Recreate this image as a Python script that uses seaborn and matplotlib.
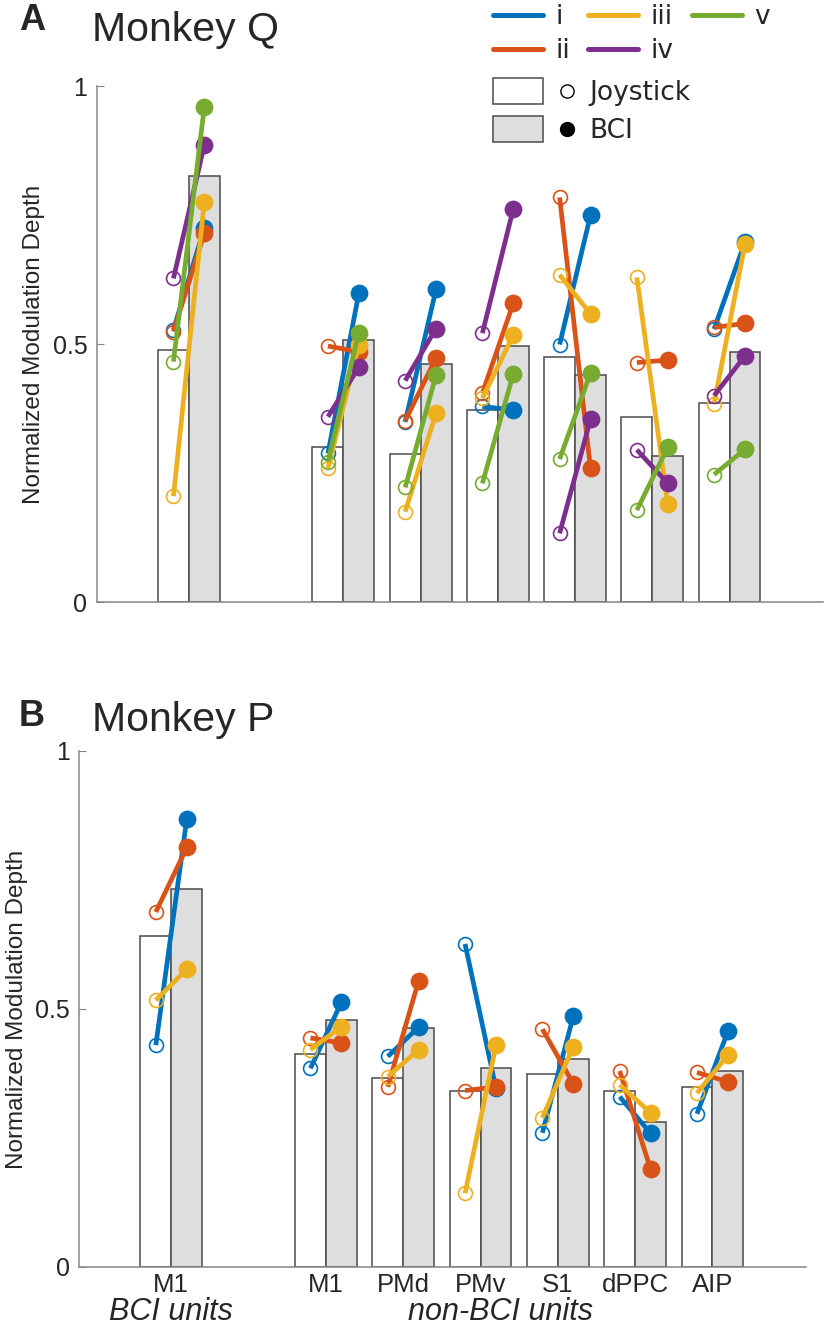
import numpy as np
import pandas as pd
import matplotlib
matplotlib.use("Agg")
import matplotlib.pyplot as plt
import seaborn as sns
from matplotlib.legend_handler import HandlerBase
from matplotlib.patches import Rectangle
from matplotlib.lines import Line2D
from matplotlib.transforms import blended_transform_factory

sns.set_style("ticks")
plt.rcParams["font.family"] = ["Liberation Sans", "DejaVu Sans"]

# regions (first one = BCI units, the rest non-BCI units)
region_keys = ["M1 BCI", "M1", "PMd", "PMv", "S1", "dPPC", "AIP"]
region_labels = ["M1", "M1", "PMd", "PMv", "S1", "dPPC", "AIP"]
plot_order = ["M1 BCI", "gap", "M1", "PMd", "PMv", "S1", "dPPC", "AIP"]

unit_names = ["i", "ii", "iii", "iv", "v"]
unit_colors = ["#0072BD", "#D95319", "#EDB120", "#7E2F8E", "#77AC30"]
bar_colors = {"Joystick": "white", "BCI": "#dedede"}

# Monkey Q
q_joy_bar = [0.488, 0.301, 0.287, 0.373, 0.475, 0.358, 0.385]
q_bci_bar = [0.826, 0.508, 0.461, 0.496, 0.439, 0.282, 0.485]
q_joy = [
    [0.528, 0.288, 0.349, 0.379, 0.499, np.nan, 0.529],
    [0.524, 0.496, 0.351, 0.405, 0.784, 0.464, 0.532],
    [0.205, 0.259, 0.175, 0.395, 0.634, 0.629, 0.384],
    [0.627, 0.359, 0.429, 0.521, 0.133, 0.295, 0.400],
    [0.466, 0.272, 0.222, 0.230, 0.277, 0.178, 0.247],
]
q_bci = [
    [0.725, 0.598, 0.606, 0.372, 0.750, np.nan, 0.698],
    [0.715, 0.485, 0.473, 0.579, 0.259, 0.469, 0.540],
    [0.776, 0.498, 0.366, 0.517, 0.558, 0.189, 0.694],
    [0.886, 0.455, 0.530, 0.762, 0.354, 0.230, 0.477],
    [0.960, 0.522, 0.440, 0.442, 0.444, 0.300, 0.296],
]

# Monkey P
p_joy_bar = [0.641, 0.413, 0.366, 0.342, 0.375, 0.342, 0.349]
p_bci_bar = [0.732, 0.479, 0.464, 0.385, 0.404, 0.281, 0.380]
p_joy = [
    [0.430, 0.385, 0.408, 0.626, 0.260, 0.330, 0.297],
    [0.688, 0.444, 0.349, 0.342, 0.461, 0.380, 0.377],
    [0.517, 0.421, 0.369, 0.143, 0.289, 0.353, 0.337],
]
p_bci = [
    [0.868, 0.513, 0.465, 0.346, 0.486, 0.259, 0.457],
    [0.813, 0.434, 0.555, 0.349, 0.355, 0.189, 0.359],
    [0.577, 0.466, 0.421, 0.430, 0.427, 0.299, 0.411],
]

W, H = 826, 1335
fig = plt.figure(figsize=(W / 100, H / 100), dpi=100)

axis_gray = "#858585"


def draw_panel(ax, joy_bar, bci_bar, joy_pts, bci_pts):
    df = pd.DataFrame({
        "region": region_keys * 2,
        "task": ["Joystick"] * len(region_keys) + ["BCI"] * len(region_keys),
        "depth": joy_bar + bci_bar,
    })
    sns.barplot(data=df, x="region", y="depth", hue="task", order=plot_order,
                hue_order=["Joystick", "BCI"], palette=bar_colors, saturation=1,
                width=0.8, errorbar=None, edgecolor="#4a4a4a", linewidth=1.1,
                legend=False, ax=ax)
    for u, (jrow, brow) in enumerate(zip(joy_pts, bci_pts)):
        c = unit_colors[u]
        for k, reg in enumerate(region_keys):
            if np.isnan(jrow[k]):
                continue
            x = plot_order.index(reg)
            ax.plot([x - 0.2, x + 0.2], [jrow[k], brow[k]], color=c, lw=3.4,
                    solid_capstyle="butt")
            ax.plot(x - 0.2, jrow[k], "o", mfc="none", mec=c, ms=10, mew=1.2)
            ax.plot(x + 0.2, brow[k], "o", color=c, ms=11.8)
    ax.set_xlim(-1.19, 8.21)
    ax.set_ylim(0, 1)
    ax.set_yticks([0, 0.5, 1])
    ax.set_yticklabels(["0", "0.5", "1"])
    ax.set_ylabel("Normalized Modulation Depth", fontsize=17.5)
    ax.yaxis.set_label_coords(-0.071, 0.5)
    ax.set_xlabel("")
    sns.despine(ax=ax)
    for s in ["left", "bottom"]:
        ax.spines[s].set_color(axis_gray)
        ax.spines[s].set_linewidth(1.1)
    ax.tick_params(axis="y", direction="in", length=5, color=axis_gray,
                   labelsize=18, pad=7)
    ax.tick_params(axis="x", length=0, labelsize=18.5, pad=4)


# panel A
axA = fig.add_axes([97 / W, 1 - 602 / H, 726 / W, 516 / H])
draw_panel(axA, q_joy_bar, q_bci_bar, q_joy, q_bci)
axA.set_xticks([])

# panel B
axB = fig.add_axes([79.3 / W, 1 - 1267 / H, 726.7 / W, 516 / H])
draw_panel(axB, p_joy_bar, p_bci_bar, p_joy, p_bci)
axB.set_xticks([plot_order.index(r) for r in region_keys])
axB.set_xticklabels(region_labels)
tr = blended_transform_factory(axB.transData, axB.transAxes)
axB.text(0, -0.087, "BCI units", transform=tr, ha="center", va="center",
         fontsize=22, style="italic")
axB.text(4.26, -0.087, "non-BCI units", transform=tr, ha="center", va="center",
         fontsize=22, style="italic")

# panel letters and titles
fig.text(19 / W, 1 - 21 / H, "A", fontsize=26, weight="bold", va="center")
fig.text(92 / W, 1 - 30 / H, "Monkey Q", fontsize=29.5, va="center")
fig.text(19 / W, 1 - 716 / H, "B", fontsize=26, weight="bold", va="center")
fig.text(92 / W, 1 - 720 / H, "Monkey P", fontsize=29.5, va="center")

# legend: units
unit_handles = [Line2D([], [], color=c, lw=3.6) for c in unit_colors]
leg1 = fig.legend(unit_handles, unit_names, loc="upper left",
                  bbox_to_anchor=(493 / W, 1 - 4 / H), ncol=3, frameon=False,
                  handlelength=1.9, handletextpad=0.45,
                  columnspacing=0.7, labelspacing=0.3, borderpad=0,
                  borderaxespad=0, prop={"family": "DejaVu Sans", "size": 19})


class RectDot(HandlerBase):
    def create_artists(self, legend, orig_handle, xdescent, ydescent, width,
                       height, fontsize, trans):
        face, filled = orig_handle
        r = Rectangle((-xdescent, -ydescent - height * 0.2), width * 0.6,
                      height * 1.4, facecolor=face, edgecolor="#4a4a4a",
                      lw=1.1, transform=trans)
        m = Line2D([width * 0.89 - xdescent], [height / 2 - ydescent],
                   marker="o", ls="", ms=10 if filled else 9.5,
                   mfc="black" if filled else "none", mec="black",
                   mew=1.0, transform=trans)
        return [r, m]


task_handles = [("white", False), ("#dedede", True)]
leg2 = fig.legend(task_handles, ["Joystick", "BCI"], loc="upper left",
                  bbox_to_anchor=(493 / W, 1 - 80 / H), frameon=False,
                  handler_map={tuple: RectDot()}, handlelength=3.15,
                  handletextpad=0.5, labelspacing=0.45, borderpad=0,
                  borderaxespad=0, prop={"family": "DejaVu Sans", "size": 19})

fig.savefig("out.png", dpi=100)
